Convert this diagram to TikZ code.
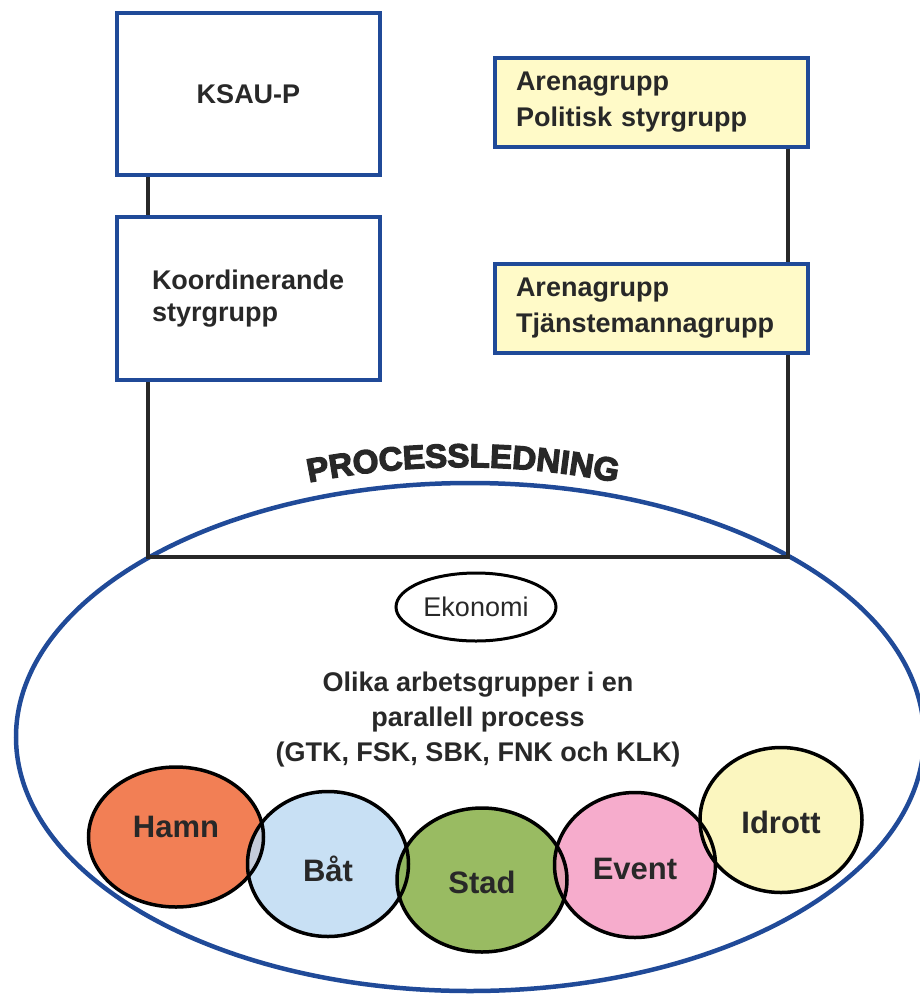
\documentclass[tikz,border=0pt]{standalone}
\usepackage{fontspec}
\setmainfont{Liberation Sans}
\newfontfamily\archfont{Liberation Sans}[BoldFeatures={FakeBold=4}]
\usetikzlibrary{shapes.geometric,%
	decorations.text}

\definecolor{orgblue}{RGB}{32,74,152}
\definecolor{linegray}{RGB}{40,40,40}
\definecolor{arenafill}{RGB}{255,250,200}
\definecolor{hamnfill}{RGB}{240,105,55}
\definecolor{batfill}{RGB}{190,218,242}
\definecolor{stadfill}{RGB}{135,175,70}
\definecolor{eventfill}{RGB}{245,158,195}
\definecolor{idrottfill}{RGB}{250,245,180}

\begin{document}
\begin{tikzpicture}[x=1pt,y=1pt,
	org_box/.style={rectangle,draw=orgblue,line width=4.5pt,minimum width=263,minimum height=162,text=linegray,font=\fontsize{27}{32}\selectfont\bfseries},
	arena_box/.style={rectangle,draw=orgblue,fill=arenafill,line width=4.5pt,minimum height=89,text width=271,inner xsep=21,align=left,text=linegray,font=\fontsize{27}{36}\selectfont\bfseries},
	link/.style={draw=linegray,line width=4.5pt},
	group_fill/.style={ellipse,inner sep=0pt,fill opacity=0.85},
	group_ring/.style={ellipse,inner sep=0pt,draw=black,line width=3.5pt,label distance=0pt}]

		\useasboundingbox (0,0) rectangle (919,-994);

		% ledning
		\node[org_box] (ksau) at (248.5,-94) {KSAU-P};
		\node[org_box,minimum height=163,text width=193,inner xsep=35,align=left] (koord) at (248.5,-298.5) {Koordinerande\\styrgrupp};
		\node[arena_box] (pol) at (651.5,-102.5) {Arenagrupp\\Politisk styrgrupp};
		\node[arena_box] (tjm) at (651.5,-308.5) {Arenagrupp\\Tjänstemannagrupp};

		% processledning
		\node[ellipse,draw=orgblue,line width=4.5pt,minimum width=908,minimum height=508,inner sep=0pt] (proc) at (470,-737) {};
		\path[decorate,decoration={text along path,text align=center,
			text={|\archfont\bfseries\fontsize{33}{33}\selectfont\color{linegray}|PROCESSLEDNING}}]
			(463,-1246) ++(103.4:779) arc[start angle=103.4,end angle=76.6,radius=779];

		\coordinate (jl) at (148,-557);
		\coordinate (jr) at (788,-557);
		\draw[link] (jl |- ksau.south) -- (jl |- koord.north);
		\draw[link] (jl |- koord.south) -- (jl) -- (jr) -- (jr |- tjm.south);
		\draw[link] (jr |- tjm.north) -- (jr |- pol.south);

		\node[ellipse,draw=black,line width=3pt,minimum width=160,minimum height=68,inner sep=0pt,text=linegray,font=\fontsize{27}{27}\selectfont] (eko) at (476,-607) {Ekonomi};
		\node[align=center,text=linegray,font=\fontsize{27}{35}\selectfont\bfseries] (olika) at (478,-720) {Olika arbetsgrupper i en\\parallell process\\(GTK, FSK, SBK, FNK och KLK)};

		% arbetsgrupper
		\def\groups{hamn/176/837/175/140/hamnfill/Hamn/10,
			bat/328/864/161/145/batfill/Båt/-5,
			stad/482/880/170/144/stadfill/Stad/-2,
			event/635/865/161/145/eventfill/Event/-4,
			idrott/781/820/162/145/idrottfill/Idrott/-2}
		\foreach \nm/\px/\py/\w/\h/\col/\lab/\dy in \groups
			\node[group_fill,fill=\col,minimum width=\w,minimum height=\h] (\nm) at (\px,-\py) {};
		\foreach \nm/\px/\py/\w/\h/\col/\lab/\dy in \groups
			\node[group_ring,minimum width=\w,minimum height=\h,
				label={[yshift=\dy,text=linegray,font=\fontsize{31}{31}\selectfont\bfseries]center:\lab}] at (\nm) {};
		\end{tikzpicture}
\end{document}
